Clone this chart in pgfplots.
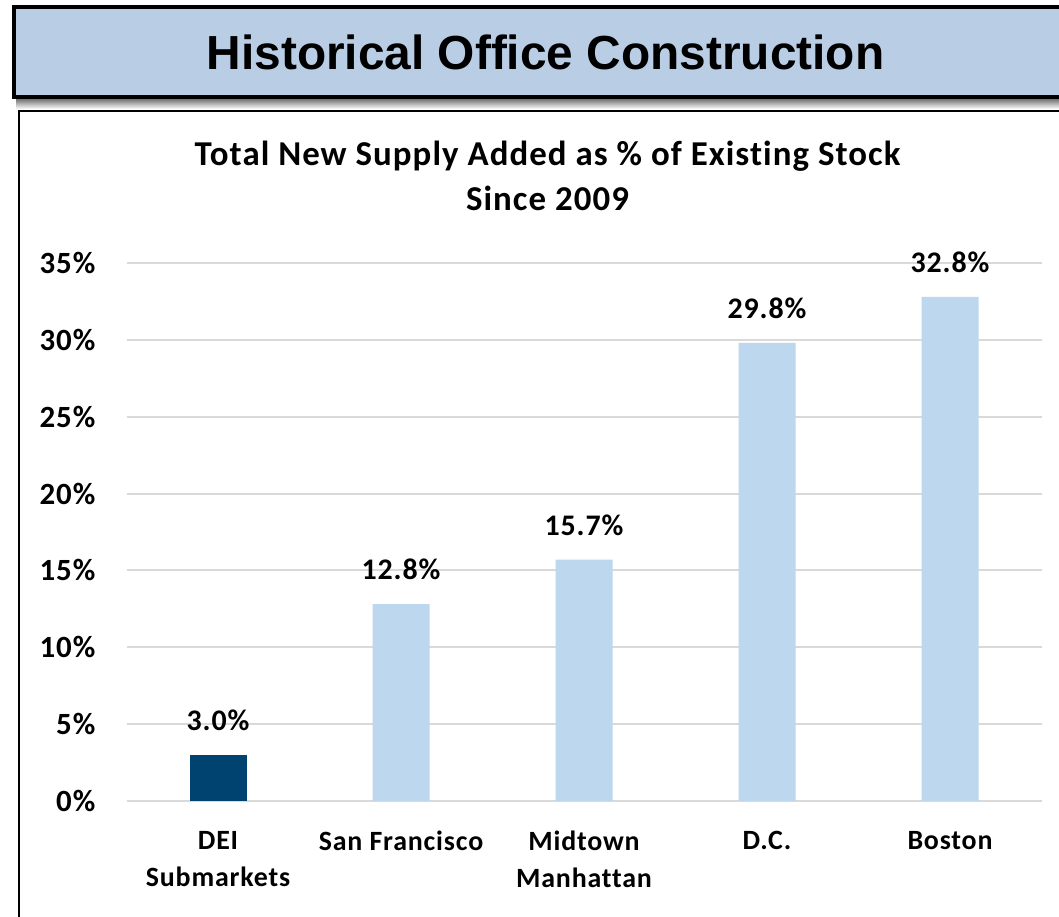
\documentclass[border=0pt]{standalone}
\usepackage{fontspec}
\setmainfont{Carlito}[LetterSpace=3, Ligatures={NoCommon}]
\newfontfamily\arialfont{Liberation Sans}
\usepackage{pgfplots}
\pgfplotsset{compat=1.18}
\definecolor{bannerblue}{RGB}{185,205,229}
\definecolor{darkbar}{RGB}{0,67,112}
\definecolor{lightbar}{RGB}{189,215,238}
\definecolor{gridgray}{RGB}{217,217,217}
\begin{document}
\begin{tikzpicture}
\useasboundingbox (0,0) rectangle (1059bp,917bp);
\clip (0,0) rectangle (1059bp,917bp);
\fill[white] (0,0) rectangle (1059bp,917bp);
% shadow under banner
\shade[top color=black!60, bottom color=white] (16bp,819bp) rectangle (1080bp,808bp);
% banner
\draw[line width=4bp, fill=bannerblue] (13.7bp,910bp) rectangle (1080bp,820bp);
\node[font=\arialfont\bfseries\fontsize{48}{48}\selectfont, anchor=base, inner sep=0] at (545.5bp,847bp) {Historical Office Construction};
% chart box
\draw[line width=2bp] (19bp,-10bp) -- (19bp,806bp) -- (1080bp,806bp);
% subtitle
\node[font=\bfseries\fontsize{35}{35}\selectfont, anchor=base, inner sep=0] at (547.5bp,751bp) {Total New Supply Added as \% of Existing Stock};
\node[font=\bfseries\fontsize{35}{35}\selectfont, anchor=base, inner sep=0] at (547.5bp,706bp) {Since 2009};
\begin{axis}[
  at={(126.5bp,116bp)}, anchor=south west,
  width=915bp, height=538bp, scale only axis,
  /pgf/number format/assume math mode=true,
  xmin=-0.5, xmax=4.5, ymin=0, ymax=35,
  axis line style={draw=none},
  major tick length=0pt,
  ymajorgrids, grid style={line width=2bp, color=gridgray},
  ytick={0,5,...,35},
  yticklabel={\pgfmathprintnumber{\tick}\%},
  yticklabel style={font=\bfseries\fontsize{31}{31}\selectfont, inner sep=0pt, xshift=-31bp, anchor=east},
  xtick={0,1,2,3,4},
  xticklabels={{DEI\\Submarkets},{San Francisco},{Midtown\\Manhattan},{D.C.},{Boston}},
  xticklabel style={font=\bfseries\fontsize{28}{37}\selectfont, align=center, inner sep=0pt, yshift=-30bp, anchor=north},
  ybar, bar width=57bp,
  clip=false,
  nodes near coords={\pgfmathprintnumber[fixed,fixed zerofill,precision=1,assume math mode=true]{\pgfplotspointmeta}\%},
  nodes near coords style={font=\bfseries\fontsize{30}{30}\selectfont, anchor=south, inner sep=0pt, yshift=24bp, text=black},
]
\addplot[fill=darkbar, draw=none, bar shift=0pt] coordinates {(0,3.0)};
\addplot[fill=lightbar, draw=none, bar shift=0pt] coordinates {(1,12.8) (2,15.7) (3,29.8) (4,32.8)};
\end{axis}
\end{tikzpicture}
\end{document}
